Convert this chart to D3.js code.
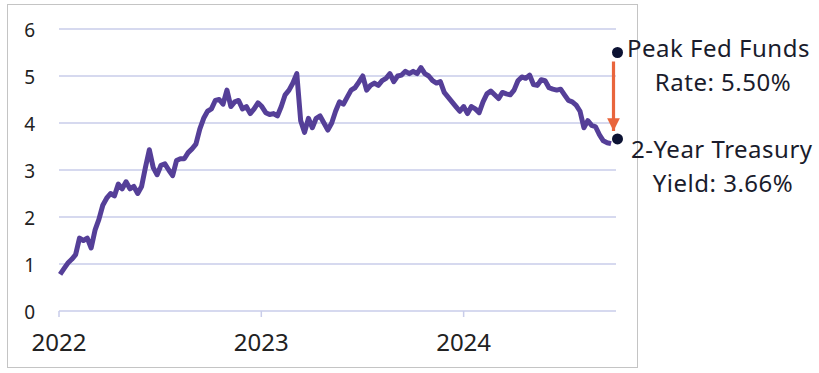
<!DOCTYPE html>
<html>
<head>
<meta charset="utf-8">
<script src="https://cdn.jsdelivr.net/npm/d3@7"></script>
<style>
  body { margin: 0; background: #fff; }
  text { font-family: "Noto Sans", sans-serif; }
</style>
</head>
<body>
<svg></svg>
<script>
// weekly 2-year Treasury yield (%), weeks starting Monday
const firstWeek = "2022-01-03";
const yield2022 = [0.78, 0.90, 1.02, 1.10, 1.20, 1.55, 1.50, 1.55, 1.34, 1.72, 1.95, 2.25, 2.40,
  2.50, 2.45, 2.70, 2.60, 2.75, 2.60, 2.65, 2.50, 2.65, 3.06, 3.43, 3.05, 2.90, 3.10, 3.13, 3.00,
  2.88, 3.20, 3.24, 3.24, 3.37, 3.45, 3.55, 3.87, 4.10, 4.25, 4.30, 4.48, 4.50, 4.40, 4.70, 4.35,
  4.45, 4.48, 4.30, 4.35, 4.20, 4.30, 4.43];
const yield2023 = [4.35, 4.22, 4.18, 4.20, 4.15, 4.35, 4.60, 4.70, 4.85, 5.05, 4.05, 3.80, 4.10,
  3.90, 4.10, 4.15, 4.00, 3.85, 4.00, 4.25, 4.45, 4.40, 4.55, 4.70, 4.75, 4.87, 5.00, 4.70, 4.80,
  4.85, 4.80, 4.90, 4.95, 5.05, 4.88, 5.00, 5.02, 5.10, 5.05, 5.10, 5.05, 5.18, 5.05, 5.00, 4.90,
  4.85, 4.88, 4.65, 4.55, 4.45, 4.35, 4.25];
const yield2024 = [4.35, 4.20, 4.35, 4.30, 4.22, 4.45, 4.62, 4.68, 4.60, 4.52, 4.65, 4.62, 4.60,
  4.70, 4.90, 4.98, 4.95, 5.02, 4.82, 4.80, 4.92, 4.90, 4.75, 4.72, 4.70, 4.72, 4.60, 4.48, 4.45,
  4.38, 4.25, 3.90, 4.05, 3.95, 3.92, 3.75, 3.62, 3.58, 3.56];

const yTicks = [0, 1, 2, 3, 4, 5, 6];
const xTicks = ["2022-01-01", "2023-01-01", "2024-01-01"];

const annotDate = "2024-10-01";
const peakRate = 5.50;
const lastYield = 3.66;
const peakLabel = ["Peak Fed Funds", "Rate: 5.50%"];
const yieldLabel = ["2-Year Treasury", "Yield: 3.66%"];

const width = 819, height = 373;
const parse = d3.timeParse("%Y-%m-%d");

const values = yield2022.concat(yield2023, yield2024);
const start = parse(firstWeek);
const data = values.map((v, i) => ({ date: d3.timeWeek.offset(start, i), value: v }));

const svg = d3.select("svg")
    .attr("width", width)
    .attr("height", height);

// outer frame
svg.append("rect")
    .attr("x", 7.5).attr("y", 4.5)
    .attr("width", 630).attr("height", 363)
    .attr("fill", "none")
    .attr("stroke", "#c4c4c4")
    .attr("stroke-width", 1);

const x = d3.scaleTime()
    .domain([parse("2022-01-01"), parse("2025-01-01")])
    .range([59, 666.5]);

const y = d3.scaleLinear()
    .domain([0, 6])
    .range([311, 29]);

const gridEnd = 616;

// gridlines
svg.append("g")
    .selectAll("line")
    .data(yTicks)
    .join("line")
    .attr("x1", x.range()[0])
    .attr("x2", gridEnd)
    .attr("y1", d => y(d))
    .attr("y2", d => y(d))
    .attr("stroke", "#c9cdea")
    .attr("stroke-width", 1.5);

// y labels
svg.append("g")
    .selectAll("text")
    .data(yTicks)
    .join("text")
    .attr("x", 35)
    .attr("y", d => y(d) + 8)
    .attr("text-anchor", "end")
    .attr("font-size", 19)
    .attr("fill", "#222")
    .text(d => d);

// x ticks + labels
const xg = svg.append("g");
xg.selectAll("line")
    .data(xTicks)
    .join("line")
    .attr("x1", d => x(parse(d)))
    .attr("x2", d => x(parse(d)))
    .attr("y1", y(0))
    .attr("y2", y(0) + 6)
    .attr("stroke", "#c9cdea")
    .attr("stroke-width", 1.5);
xg.selectAll("text")
    .data(xTicks)
    .join("text")
    .attr("x", d => x(parse(d)))
    .attr("y", 351)
    .attr("text-anchor", "middle")
    .attr("font-size", 24)
    .attr("fill", "#222")
    .text(d => d.slice(0, 4));

// yield line
const line = d3.line()
    .x(d => x(d.date))
    .y(d => y(d.value));

svg.append("path")
    .datum(data)
    .attr("d", line)
    .attr("fill", "none")
    .attr("stroke", "#553f98")
    .attr("stroke-width", 5)
    .attr("stroke-linejoin", "round");

// arrow
const ax = x(parse(annotDate)) - 2;
svg.append("defs").append("marker")
    .attr("id", "head")
    .attr("viewBox", "0 0 10 10")
    .attr("refX", 10).attr("refY", 5)
    .attr("markerWidth", 4).attr("markerHeight", 4)
    .attr("markerUnits", "strokeWidth")
    .attr("orient", "auto")
    .append("path")
    .attr("d", "M0,0L10,5L0,10Z")
    .attr("fill", "#e9653c");

svg.append("line")
    .attr("x1", ax).attr("x2", ax)
    .attr("y1", y(peakRate) + 9)
    .attr("y2", y(lastYield) - 8)
    .attr("stroke", "#e9653c")
    .attr("stroke-width", 3.2)
    .attr("marker-end", "url(#head)");

// dots
svg.append("g")
    .selectAll("circle")
    .data([peakRate, lastYield])
    .join("circle")
    .attr("cx", x(parse(annotDate)) + 2)
    .attr("cy", d => y(d))
    .attr("r", 5.5)
    .attr("fill", "#0c1233");

// annotation labels
function label(lines, x0, y0) {
  const t = svg.append("g").attr("fill", "#1a1c2c")
      .attr("font-size", 24).attr("letter-spacing", 0.5);
  t.append("text").attr("x", x0).attr("y", y0).text(lines[0]);
  t.append("text").attr("x", 723).attr("y", y0 + 34)
      .attr("text-anchor", "middle").text(lines[1]);
}
label(peakLabel, 627, 57);
label(yieldLabel, 631, 158);
</script>
</body>
</html>
